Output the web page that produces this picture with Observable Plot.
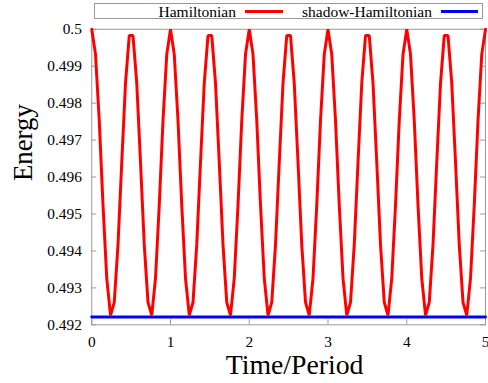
<!DOCTYPE html>
<html>
<head>
<meta charset="utf-8">
<script src="https://cdn.jsdelivr.net/npm/d3@7"></script>
<script src="https://cdn.jsdelivr.net/npm/@observablehq/plot@0.6"></script>
<style>
  html, body { margin: 0; padding: 0; background: #fff; overflow: hidden; }
  #wrap { position: relative; width: 488px; height: 383px; overflow: hidden; font-family: "Liberation Serif", "DejaVu Serif", serif; }
  #legend { position: absolute; left: 94px; top: 3px; width: 389px; height: 16px; border: 1px solid #999; box-sizing: border-box; background: #fff; }
  #legend .lab { position: absolute; top: -1px; font-size: 15.5px; line-height: 17px; white-space: nowrap; color: #000; font-family: "Liberation Serif", serif; }
  #legend .sw { position: absolute; top: 6px; height: 3px; }
  #chart { position: absolute; left: 0; top: 0; }
  #chart svg text { font-family: "Liberation Serif", "DejaVu Serif", serif; }
</style>
</head>
<body>
<div id="wrap">
  <div id="chart"></div>
  <div id="legend"></div>
</div>
<script>
// ---- data ----
const seriesNames = ["Hamiltonian", "shadow-Hamiltonian"];
const seriesColors = ["#ff0000", "#0000ff"];
const sampleStep = 1 / 21; // time between samples (Time/Period units)
const hamiltonian = [
  0.5, 0.49932, 0.49753, 0.49524, 0.49326, 0.49226, 0.49261, 0.49417, 0.4964, 0.49854, 0.49983,
  0.49983, 0.49854, 0.4964, 0.49417, 0.49261, 0.49226, 0.49326, 0.49524, 0.49753, 0.49932,
  0.5, 0.49932, 0.49753, 0.49524, 0.49326, 0.49226, 0.49261, 0.49417, 0.4964, 0.49854, 0.49983,
  0.49983, 0.49854, 0.4964, 0.49417, 0.49261, 0.49226, 0.49326, 0.49524, 0.49753, 0.49932,
  0.5, 0.49932, 0.49753, 0.49524, 0.49326, 0.49226, 0.49261, 0.49417, 0.4964, 0.49854, 0.49983,
  0.49983, 0.49854, 0.4964, 0.49417, 0.49261, 0.49226, 0.49326, 0.49524, 0.49753, 0.49932,
  0.5, 0.49932, 0.49753, 0.49524, 0.49326, 0.49226, 0.49261, 0.49417, 0.4964, 0.49854, 0.49983,
  0.49983, 0.49854, 0.4964, 0.49417, 0.49261, 0.49226, 0.49326, 0.49524, 0.49753, 0.49932,
  0.5, 0.49932, 0.49753, 0.49524, 0.49326, 0.49226, 0.49261, 0.49417, 0.4964, 0.49854, 0.49983,
  0.49983, 0.49854, 0.4964, 0.49417, 0.49261, 0.49226, 0.49326, 0.49524, 0.49753, 0.49932,
  0.5
];
const shadowTimes = [0, 5];
const shadowValues = [0.49221, 0.49221];
const xDomain = [0, 5];
const yDomain = [0.492, 0.5];
const xTicks = [0, 1, 2, 3, 4, 5];
const yTicks = [0.492, 0.493, 0.494, 0.495, 0.496, 0.497, 0.498, 0.499, 0.5];
const xLabel = "Time/Period";
const yLabel = "Energy";

// ---- build tables ----
const hamData = hamiltonian.map((e, i) => ({t: i * sampleStep, e}));
const shadowData = shadowTimes.map((t, i) => ({t, e: shadowValues[i]}));

const W = 492, H = 383, mL = 92, mR = 3, mT = 29, mB = 56;
const fw = W - mL - mR, fh = H - mT - mB, tk = 5;

const plot = Plot.plot({
  width: W,
  height: H,
  marginLeft: mL,
  marginRight: mR,
  marginTop: mT,
  marginBottom: mB,
  style: {fontFamily: "'Liberation Serif', 'DejaVu Serif', serif", fontSize: "15.5px", background: "transparent", overflow: "visible"},
  x: {domain: xDomain},
  y: {domain: yDomain},
  marks: [
    Plot.frame({stroke: "#999", strokeWidth: 1}),
    Plot.ruleY(yTicks, {stroke: "#999", insetRight: fw - tk}),
    Plot.ruleY(yTicks, {stroke: "#999", insetLeft: fw - tk}),
    Plot.ruleX(xTicks, {stroke: "#999", insetTop: fh - tk}),
    Plot.ruleX(xTicks, {stroke: "#999", insetBottom: fh - tk}),
    Plot.axisY({ticks: yTicks, tickSize: 0, tickPadding: 10, label: null, tickFormat: d3.format("")}),
    Plot.axisX({ticks: xTicks, tickSize: 0, tickPadding: 11, label: null, tickFormat: d3.format("d")}),
    Plot.line(hamData, {x: "t", y: "e", stroke: seriesColors[0], strokeWidth: 3, strokeLinejoin: "miter"}),
    Plot.line(shadowData, {x: "t", y: "e", stroke: seriesColors[1], strokeWidth: 3}),
    Plot.text([yLabel], {frameAnchor: "left", dx: -69, dy: 4, rotate: -90, fontSize: 27, text: d => d}),
    Plot.text([xLabel], {frameAnchor: "bottom", lineAnchor: "bottom", dx: 6, dy: 50, fontSize: 28, text: d => d})
  ]
});
document.getElementById("chart").appendChild(plot);

// ---- legend (HTML, real text) ----
const legend = document.getElementById("legend");
const items = [
  {name: seriesNames[0], color: seriesColors[0], textEnd: 142, swStart: 151, swEnd: 189},
  {name: seriesNames[1], color: seriesColors[1], textEnd: 338, swStart: 347, swEnd: 384}
];
for (const it of items) {
  const s = document.createElement("span");
  s.className = "lab";
  s.textContent = it.name;
  s.style.right = (389 - 1 - it.textEnd) + "px";
  legend.appendChild(s);
  const sw = document.createElement("span");
  sw.className = "sw";
  sw.style.left = (it.swStart - 1) + "px";
  sw.style.width = (it.swEnd - it.swStart) + "px";
  sw.style.background = it.color;
  legend.appendChild(sw);
}
</script>
</body>
</html>
